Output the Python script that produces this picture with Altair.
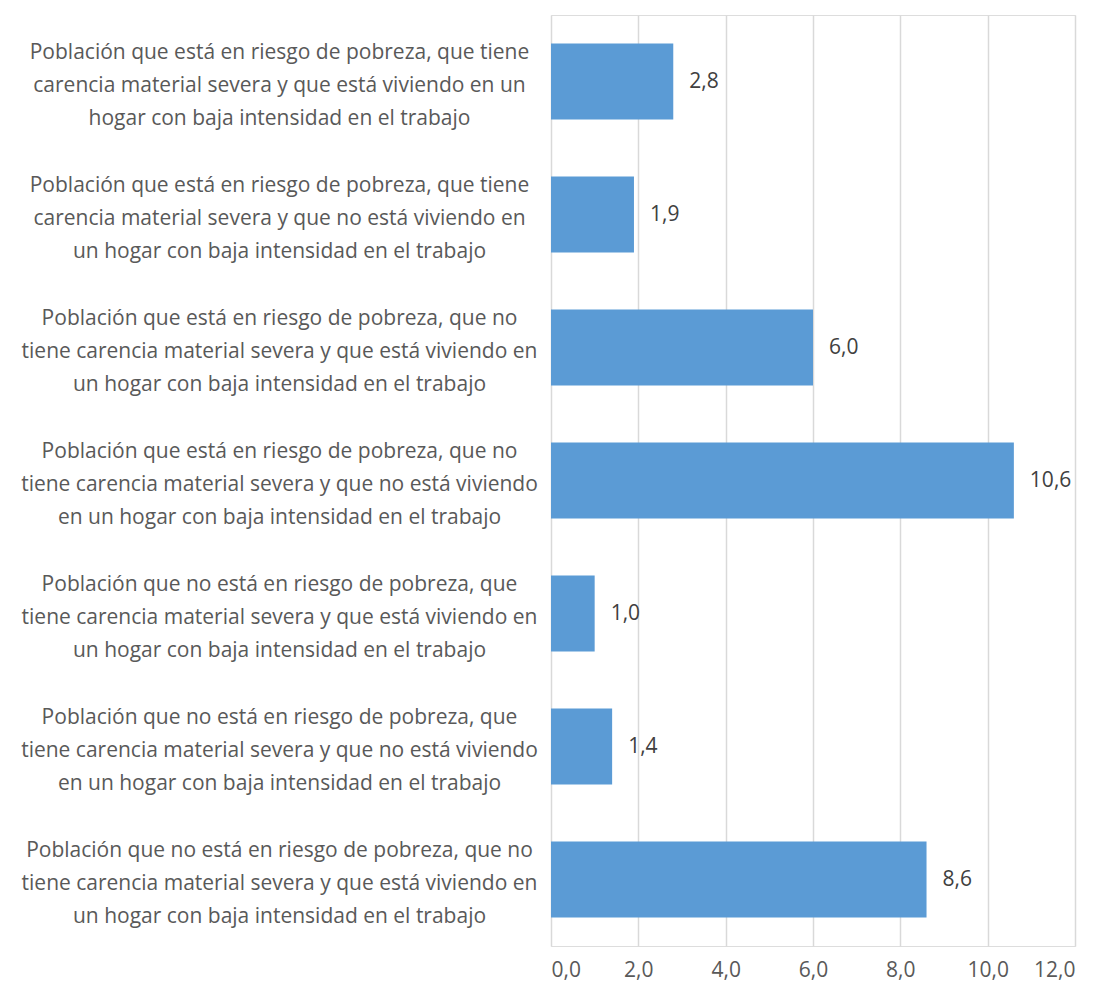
import altair as alt
import pandas as pd

categories = [
    "Población que está en riesgo de pobreza, que tiene|carencia material severa y que está viviendo en un|hogar con baja intensidad en el trabajo",
    "Población que está en riesgo de pobreza, que tiene|carencia material severa y que no está viviendo en|un hogar con baja intensidad en el trabajo",
    "Población que está en riesgo de pobreza, que no|tiene carencia material severa y que está viviendo en|un hogar con baja intensidad en el trabajo",
    "Población que está en riesgo de pobreza, que no|tiene carencia material severa y que no está viviendo|en un hogar con baja intensidad en el trabajo",
    "Población que no está en riesgo de pobreza, que|tiene carencia material severa y que está viviendo en|un hogar con baja intensidad en el trabajo",
    "Población que no está en riesgo de pobreza, que|tiene carencia material severa y que no está viviendo|en un hogar con baja intensidad en el trabajo",
    "Población que no está en riesgo de pobreza, que no|tiene carencia material severa y que está viviendo en|un hogar con baja intensidad en el trabajo",
]
values = [2.8, 1.9, 6.0, 10.6, 1.0, 1.4, 8.6]
x_ticks = [0, 2, 4, 6, 8, 10, 12]

df = pd.DataFrame({"cat": categories, "v": values})

FONT = "Open Sans"
TXT = "#595959"
FS = 21

base = alt.Chart(df).encode(
    y=alt.Y(
        "cat:N",
        sort=None,
        title=None,
        scale=alt.Scale(paddingInner=0.43, paddingOuter=0.215),
        axis=alt.Axis(
            labelExpr="split(datum.label, '|')",
            labelAlign="center",
            labelBaseline="middle",
            labelPadding=272,
            labelOffset=-29,
            labelLimit=1000,
            labelLineHeight=33,
            labelFontSize=FS,
            labelFont=FONT,
            labelColor=TXT,
            ticks=False,
            domain=False,
            grid=False,
        ),
    ),
    x=alt.X(
        "v:Q",
        title=None,
        scale=alt.Scale(domain=[0, 12], nice=False),
        axis=alt.Axis(
            values=x_ticks,
            labelExpr="replace(format(datum.value, '.1f'), '.', ',')",
            labelFontSize=FS,
            labelFont=FONT,
            labelColor=TXT,
            labelPadding=13,
            ticks=False,
            domain=False,
            grid=True,
            gridColor="#D9D9D9",
            gridWidth=1.5,
        ),
    ),
)

bars = base.mark_bar(color="#5B9BD5")
labels = base.transform_calculate(
    lbl="replace(format(datum.v, '.1f'), '.', ',')"
).mark_text(
    align="left", baseline="middle", dx=16, fontSize=FS, font=FONT, color="#404040"
).encode(text="lbl:N")

chart = (
    (bars + labels)
    .properties(
        width=524,
        height=931,
        autosize=alt.AutoSizeParams(type="none"),
        padding={"left": 551, "top": 15, "right": 25, "bottom": 45},
    )
    .configure_view(stroke=None)
    .configure(background="white")
)

chart.save("out.html", embed_options={"renderer": "svg", "actions": False})
